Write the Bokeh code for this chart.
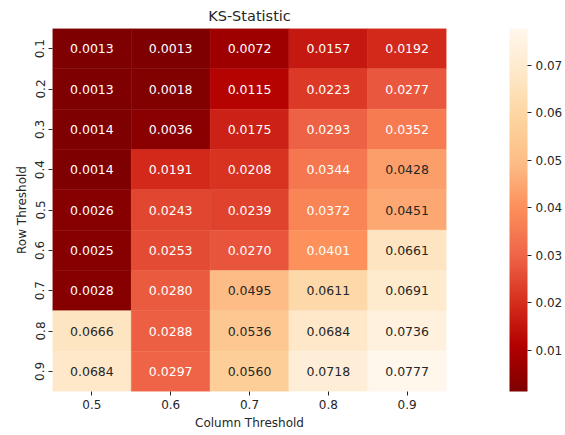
import numpy as np
from bokeh.plotting import figure
from bokeh.models import (ColumnDataSource, Range1d, FixedTicker, LinearColorMapper,
                          ColorBar)
from bokeh.core.properties import value
from bokeh.embed import file_html
from bokeh.resources import INLINE

# ---- data ----
row_labels = ["0.1", "0.2", "0.3", "0.4", "0.5", "0.6", "0.7", "0.8", "0.9"]
col_labels = ["0.5", "0.6", "0.7", "0.8", "0.9"]
row_01 = [0.0013, 0.0013, 0.0072, 0.0157, 0.0192]
row_02 = [0.0013, 0.0018, 0.0115, 0.0223, 0.0277]
row_03 = [0.0014, 0.0036, 0.0175, 0.0293, 0.0352]
row_04 = [0.0014, 0.0191, 0.0208, 0.0344, 0.0428]
row_05 = [0.0026, 0.0243, 0.0239, 0.0372, 0.0451]
row_06 = [0.0025, 0.0253, 0.0270, 0.0401, 0.0661]
row_07 = [0.0028, 0.0280, 0.0495, 0.0611, 0.0691]
row_08 = [0.0666, 0.0288, 0.0536, 0.0684, 0.0736]
row_09 = [0.0684, 0.0297, 0.0560, 0.0718, 0.0777]
cbar_ticks = [0.01, 0.02, 0.03, 0.04, 0.05, 0.06, 0.07]

values = np.array([row_01, row_02, row_03, row_04, row_05, row_06, row_07, row_08, row_09])

# ---- colormap OrRd_r (matplotlib style, 256 entries) ----
orrd9 = ["#fff7ec", "#fee8c8", "#fdd49e", "#fdbb84", "#fc8d59",
         "#ef6548", "#d7301f", "#b30000", "#7f0000"]
def hex2rgb(h):
    return np.array([int(h[i:i + 2], 16) / 255.0 for i in (1, 3, 5)])
anchors = np.array([hex2rgb(c) for c in orrd9])
pos = np.linspace(0, 1, len(orrd9))
N = 256
t = np.linspace(0, 1, N)
rgb = np.stack([np.interp(t, pos, anchors[:, k]) for k in range(3)], axis=1)
rgb = rgb[::-1]  # reversed
palette = ["#%02x%02x%02x" % tuple(int(round(v * 255)) for v in c) for c in rgb]

vmin, vmax = values.min(), values.max()

def lum(c):
    c = np.where(c <= 0.03928, c / 12.92, ((c + 0.055) / 1.055) ** 2.4)
    return 0.2126 * c[0] + 0.7152 * c[1] + 0.0722 * c[2]

xs, ys, fills, tcols, labels = [], [], [], [], []
for i in range(len(row_labels)):
    for j in range(len(col_labels)):
        v = values[i, j]
        idx = int((v - vmin) / (vmax - vmin) * N)
        idx = min(max(idx, 0), N - 1)
        xs.append(j + 0.5)
        ys.append(i + 0.5)
        fills.append(palette[idx])
        tcols.append("#262626" if lum(rgb[idx]) > 0.425 else "#ffffff")
        labels.append("%.4f" % v)

src = ColumnDataSource(dict(x=xs, y=ys, fill=fills, tcol=tcols, label=labels))

FONT = "DejaVu Sans"
p = figure(frame_width=394, frame_height=363,
           x_range=Range1d(0, len(col_labels)), y_range=Range1d(len(row_labels), 0),
           output_backend="svg", toolbar_location=None,
           min_border_left=52, min_border_top=21, min_border_bottom=43, min_border_right=0)

p.rect(x="x", y="y", width=1, height=1, source=src, fill_color="fill",
       line_color="fill", line_width=0.5)
p.text(x="x", y="y", text="label", source=src, text_color="tcol",
       text_align="center", text_baseline="middle",
       text_font=value(FONT), text_font_size="12.5px")

p.title.text = "KS-Statistic"
p.title.align = "center"
p.title.text_font = FONT
p.title.text_font_size = "14.5px"
p.title.text_font_style = "normal"
p.title.text_color = "#262626"

p.xaxis.ticker = FixedTicker(ticks=[j + 0.5 for j in range(len(col_labels))])
p.xaxis.major_label_overrides = {j + 0.5: col_labels[j] for j in range(len(col_labels))}
p.yaxis.ticker = FixedTicker(ticks=[i + 0.5 for i in range(len(row_labels))])
p.yaxis.major_label_overrides = {i + 0.5: row_labels[i] for i in range(len(row_labels))}
p.yaxis.major_label_orientation = "vertical"
p.xaxis.axis_label = "Column Threshold"
p.yaxis.axis_label = "Row Threshold"
for ax in (p.xaxis[0], p.yaxis[0]):
    ax.axis_line_color = None
    ax.major_tick_in = 0
    ax.major_tick_out = 4
    ax.minor_tick_line_color = None
    ax.major_tick_line_color = "#262626"
    ax.major_label_text_font = FONT
    ax.major_label_text_font_size = "12px"
    ax.major_label_text_color = "#262626"
    ax.axis_label_text_font = FONT
    ax.axis_label_text_font_size = "12px"
    ax.axis_label_text_font_style = "normal"
    ax.axis_label_text_color = "#262626"
    ax.major_label_standoff = 4
    ax.axis_label_standoff = 4
p.grid.visible = False
p.outline_line_color = None

mapper = LinearColorMapper(palette=palette, low=vmin, high=vmax)
cb = ColorBar(color_mapper=mapper, ticker=FixedTicker(ticks=cbar_ticks),
              width=18, height=363, padding=0, margin=0,
              location=(63, 0),
              bar_line_color=None, border_line_color=None,
              background_fill_alpha=0,
              major_tick_in=0, major_tick_out=4, major_tick_line_color="#262626",
              minor_tick_line_color=None,
              label_standoff=4,
              major_label_text_font=FONT, major_label_text_font_size="12px",
              major_label_text_color="#262626")
p.add_layout(cb, "right")

open("out.html", "w").write(file_html(p, INLINE))
